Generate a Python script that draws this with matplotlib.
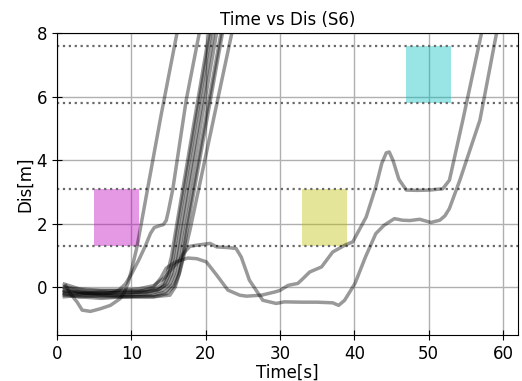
import numpy as np
import matplotlib.pyplot as plt

# trajectoires (temps [s], distance [m])
tA = [1.2, 1.8, 2.7, 3.4, 4.5, 5.8, 7.2, 8.5, 9.1, 9.6, 10.1, 10.8, 12.2, 14.0, 16.4]
dA = [0.05, -0.2, -0.46, -0.72, -0.76, -0.68, -0.57, -0.36, -0.15, 0.15, 0.6, 1.3, 3.1, 5.4, 8.3]

tB = [1.0, 3.0, 5.0, 7.0, 8.3, 9.2, 10.0, 11.0, 11.9, 12.6, 13.1, 13.7, 14.3, 14.7, 15.0,
      15.6, 17.4, 19.4]
dB = [-0.1, -0.2, -0.2, -0.2, -0.1, 0.1, 0.4, 0.85, 1.3, 1.7, 1.88, 1.93, 1.97, 2.1, 2.4,
      3.1, 5.9, 8.3]

tK1 = [1.0, 3.0, 6.0, 9.0, 12.0, 13.3, 14.2, 14.8, 15.4, 16.0, 20.7]
dK1 = [0.1, -0.05, -0.1, -0.1, -0.1, -0.05, 0.1, 0.4, 0.95, 1.8, 8.3]
tK2 = [1.0, 3.0, 6.0, 9.0, 12.0, 13.5, 14.4, 15.0, 15.6, 16.2, 20.9]
dK2 = [-0.15, -0.15, -0.2, -0.15, -0.15, -0.1, 0.05, 0.35, 0.9, 1.8, 8.3]
tK3 = [1.0, 3.0, 6.0, 9.0, 12.0, 13.8, 14.8, 15.4, 16.0, 16.6, 21.3]
dK3 = [-0.2, -0.2, -0.15, -0.2, -0.15, -0.05, 0.1, 0.4, 0.95, 1.8, 8.3]
tK4 = [1.0, 3.0, 6.0, 9.0, 12.5, 14.2, 15.2, 15.8, 16.3, 16.9, 21.7]
dK4 = [0.0, -0.15, -0.25, -0.25, -0.2, -0.1, 0.1, 0.45, 0.95, 1.8, 8.3]
tK5 = [1.0, 3.0, 6.0, 9.0, 13.0, 14.6, 15.6, 16.2, 16.7, 17.3, 22.3]
dK5 = [-0.3, -0.25, -0.3, -0.3, -0.25, -0.15, 0.1, 0.45, 0.95, 1.8, 8.3]
tK6 = [1.0, 3.0, 6.0, 9.0, 13.0, 14.8, 15.8, 16.4, 16.9, 17.5, 22.5]
dK6 = [-0.25, -0.3, -0.25, -0.3, -0.3, -0.2, 0.05, 0.4, 0.9, 1.8, 8.3]
tK7 = [1.0, 3.0, 6.0, 9.0, 13.0, 15.2, 15.9, 16.5, 17.2, 17.9, 23.8]
dK7 = [-0.2, -0.3, -0.35, -0.3, -0.3, -0.25, 0.0, 0.45, 1.1, 1.8, 8.3]

tC = [1.0, 4.0, 8.0, 11.0, 13.0, 14.5, 15.5, 16.5, 17.0, 17.9, 19.0, 20.6, 21.5, 23.0,
      24.1, 24.8, 25.9, 27.1, 27.7, 29.5, 30.6, 33.0, 35.0, 37.1, 37.9, 38.7, 40.1,
      41.5, 42.9, 44.0, 45.4, 46.5, 47.5, 48.8, 50.3, 51.5, 52.2, 52.8, 54.2, 56.9, 59.3]
dC = [0.0, -0.1, -0.1, -0.05, 0.05, 0.3, 0.6, 0.85, 1.06, 1.29, 1.33, 1.38, 1.27, 1.25,
      1.22, 0.95, 0.22, -0.2, -0.41, -0.51, -0.46, -0.47, -0.47, -0.49, -0.57, -0.41, 0.12,
      0.95, 1.69, 1.95, 2.16, 2.11, 2.1, 2.14, 2.04, 2.11, 2.25, 2.48, 3.37, 5.26, 8.2]

tD = [1.0, 4.0, 8.0, 11.0, 13.0, 14.0, 14.7, 16.0, 17.6, 18.8, 20.1, 21.5, 23.0, 24.6,
      25.5, 27.5, 29.3, 30.0, 31.1, 32.4, 33.0, 34.0, 35.6, 37.1, 38.7, 39.8, 41.6, 42.9,
      43.7, 44.3, 44.7, 45.2, 46.0, 47.0, 48.5, 50.1, 51.9, 52.8, 54.6, 57.3]
dD = [-0.1, -0.2, -0.2, -0.15, 0.0, 0.3, 0.6, 0.8, 0.92, 0.9, 0.8, 0.38, -0.09, -0.25,
      -0.28, -0.25, -0.15, -0.1, 0.06, 0.12, 0.25, 0.48, 0.64, 1.11, 1.32, 1.43, 2.21, 3.16,
      3.9, 4.23, 4.26, 4.0, 3.4, 3.06, 3.05, 3.06, 3.1, 3.37, 5.26, 8.2]

trajets = [(tA, dA), (tB, dB), (tK1, dK1), (tK2, dK2), (tK3, dK3), (tK4, dK4),
           (tK5, dK5), (tK6, dK6), (tK7, dK7), (tC, dC), (tD, dD)]

# lignes de référence et zones
niveaux = [1.3, 3.1, 5.8, 7.6]
zones = [(5, 11, 1.3, 3.1, 'm'), (33, 39, 1.3, 3.1, 'y'), (47, 53, 5.8, 7.6, 'c')]

fig, ax = plt.subplots(figsize=(5.22, 3.81), dpi=100)
fig.subplots_adjust(left=0.109, right=0.992, top=0.913, bottom=0.121)

for x0, x1, y0, y1, c in zones:
    ax.fill_between([x0, x1], y0, y1, color=c, alpha=0.4, lw=0)

for y in niveaux:
    ax.axhline(y, color='dimgray', ls=':', lw=1.6)

for t, d in trajets:
    ax.plot(t, d, color='k', alpha=0.4, lw=2.5)

ax.set_xlim(0, 62)
ax.set_ylim(-1.5, 8)
ax.set_xticks([0, 10, 20, 30, 40, 50, 60])
ax.set_yticks([0, 2, 4, 6, 8])
ax.grid(True, color='#b0b0b0', lw=1)
ax.set_axisbelow(True)
ax.tick_params(direction='inout', length=7, labelsize=12)
ax.set_title("Time vs Dis (S6)", fontsize=12)
ax.set_xlabel("Time[s]", fontsize=12, labelpad=1)
ax.set_ylabel("Dis[m]", fontsize=12, labelpad=2)

fig.savefig("out.png")
